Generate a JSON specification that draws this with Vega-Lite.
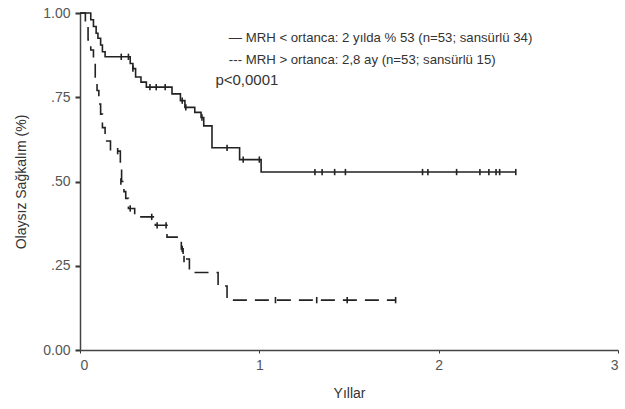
{
  "$schema": "https://vega.github.io/schema/vega-lite/v6.json",
  "autosize": "none",
  "width": 538,
  "height": 337,
  "padding": {"left": 80, "top": 13, "right": 7, "bottom": 59},
  "background": "white",
  "config": {
    "view": {"stroke": null},
    "font": "Liberation Sans",
    "axis": {"grid": false, "labelFont": "Liberation Sans", "titleFont": "Liberation Sans", "labelFontSize": 14, "titleFontSize": 14, "labelColor": "#555", "titleColor": "#333", "titleFontWeight": "normal", "domainColor": "#444", "domainWidth": 1.5, "tickColor": "#333"}
  },
  "datasets": {
    "curves": [
      {"g": "low", "t": 0, "s": 1.0},
      {"g": "low", "t": 0.06, "s": 0.98},
      {"g": "low", "t": 0.075, "s": 0.96},
      {"g": "low", "t": 0.09, "s": 0.94},
      {"g": "low", "t": 0.10, "s": 0.925},
      {"g": "low", "t": 0.115, "s": 0.905},
      {"g": "low", "t": 0.125, "s": 0.885},
      {"g": "low", "t": 0.14, "s": 0.87},
      {"g": "low", "t": 0.28, "s": 0.85},
      {"g": "low", "t": 0.295, "s": 0.835},
      {"g": "low", "t": 0.31, "s": 0.81},
      {"g": "low", "t": 0.34, "s": 0.795},
      {"g": "low", "t": 0.37, "s": 0.78},
      {"g": "low", "t": 0.513, "s": 0.76},
      {"g": "low", "t": 0.56, "s": 0.74},
      {"g": "low", "t": 0.585, "s": 0.72},
      {"g": "low", "t": 0.64, "s": 0.705},
      {"g": "low", "t": 0.675, "s": 0.69},
      {"g": "low", "t": 0.69, "s": 0.665},
      {"g": "low", "t": 0.736, "s": 0.60},
      {"g": "low", "t": 0.89, "s": 0.565},
      {"g": "low", "t": 1.01, "s": 0.528},
      {"g": "low", "t": 2.43, "s": 0.528},
      {"g": "high", "t": 0, "s": 1.0},
      {"g": "high", "t": 0.03, "s": 0.96},
      {"g": "high", "t": 0.045, "s": 0.92},
      {"g": "high", "t": 0.06, "s": 0.89},
      {"g": "high", "t": 0.075, "s": 0.85},
      {"g": "high", "t": 0.085, "s": 0.81},
      {"g": "high", "t": 0.095, "s": 0.77},
      {"g": "high", "t": 0.105, "s": 0.73},
      {"g": "high", "t": 0.115, "s": 0.70},
      {"g": "high", "t": 0.125, "s": 0.66},
      {"g": "high", "t": 0.14, "s": 0.62},
      {"g": "high", "t": 0.17, "s": 0.59},
      {"g": "high", "t": 0.225, "s": 0.55},
      {"g": "high", "t": 0.232, "s": 0.50},
      {"g": "high", "t": 0.245, "s": 0.47},
      {"g": "high", "t": 0.255, "s": 0.45},
      {"g": "high", "t": 0.27, "s": 0.42},
      {"g": "high", "t": 0.305, "s": 0.395},
      {"g": "high", "t": 0.42, "s": 0.37},
      {"g": "high", "t": 0.485, "s": 0.335},
      {"g": "high", "t": 0.565, "s": 0.30},
      {"g": "high", "t": 0.575, "s": 0.27},
      {"g": "high", "t": 0.61, "s": 0.23},
      {"g": "high", "t": 0.77, "s": 0.19},
      {"g": "high", "t": 0.82, "s": 0.148},
      {"g": "high", "t": 1.76, "s": 0.148}
    ],
    "censors": [
      {"g": "low", "t": 0.23, "s": 0.87},
      {"g": "low", "t": 0.27, "s": 0.87},
      {"g": "low", "t": 0.295, "s": 0.835},
      {"g": "low", "t": 0.39, "s": 0.78},
      {"g": "low", "t": 0.425, "s": 0.78},
      {"g": "low", "t": 0.475, "s": 0.78},
      {"g": "low", "t": 0.57, "s": 0.74},
      {"g": "low", "t": 0.59, "s": 0.72},
      {"g": "low", "t": 0.68, "s": 0.69},
      {"g": "low", "t": 0.82, "s": 0.60},
      {"g": "low", "t": 0.91, "s": 0.565},
      {"g": "low", "t": 1.0, "s": 0.565},
      {"g": "low", "t": 1.31, "s": 0.528},
      {"g": "low", "t": 1.35, "s": 0.528},
      {"g": "low", "t": 1.42, "s": 0.528},
      {"g": "low", "t": 1.48, "s": 0.528},
      {"g": "low", "t": 1.91, "s": 0.528},
      {"g": "low", "t": 1.94, "s": 0.528},
      {"g": "low", "t": 2.10, "s": 0.528},
      {"g": "low", "t": 2.23, "s": 0.528},
      {"g": "low", "t": 2.28, "s": 0.528},
      {"g": "low", "t": 2.32, "s": 0.528},
      {"g": "low", "t": 2.34, "s": 0.528},
      {"g": "low", "t": 2.43, "s": 0.528},
      {"g": "high", "t": 0.21, "s": 0.59},
      {"g": "high", "t": 0.228, "s": 0.50},
      {"g": "high", "t": 0.28, "s": 0.42},
      {"g": "high", "t": 0.40, "s": 0.395},
      {"g": "high", "t": 0.43, "s": 0.37},
      {"g": "high", "t": 0.48, "s": 0.37},
      {"g": "high", "t": 0.57, "s": 0.30},
      {"g": "high", "t": 0.58, "s": 0.27},
      {"g": "high", "t": 1.09, "s": 0.148},
      {"g": "high", "t": 1.32, "s": 0.148},
      {"g": "high", "t": 1.49, "s": 0.148},
      {"g": "high", "t": 1.76, "s": 0.148}
    ]
  },
  "layer": [
    {
      "mark": {"type": "rule", "color": "#888", "strokeWidth": 1.5},
      "encoding": {
        "y": {"datum": 1, "type": "quantitative"},
        "x": {"datum": 0, "type": "quantitative"},
        "x2": {"datum": 3}
      }
    },
    {
      "data": {"name": "curves"},
      "transform": [{"filter": "datum.g == 'low'"}],
      "mark": {"type": "line", "interpolate": "step-after", "color": "#222", "strokeWidth": 1.6},
      "encoding": {
        "x": {"field": "t", "type": "quantitative", "scale": {"domain": [0, 3], "nice": false, "zero": false},
          "axis": {"values": [0, 1, 2, 3], "format": "d", "title": "Yıllar", "tickSize": 3, "labelPadding": 5, "titlePadding": 14}},
        "y": {"field": "s", "type": "quantitative", "scale": {"domain": [0, 1], "nice": false},
          "axis": {"values": [0, 0.25, 0.5, 0.75, 1], "labelExpr": "datum.value == 0 ? '0.00' : datum.value == 1 ? '1.00' : '.' + format(datum.value * 100, 'd')", "title": "Olaysız Sağkalım (%)", "tickSize": 5, "tickWidth": 2, "labelPadding": 5, "titlePadding": 14}},
        "order": {"field": "t"}
      }
    },
    {
      "data": {"name": "curves"},
      "transform": [{"filter": "datum.g == 'high'"}],
      "mark": {"type": "line", "interpolate": "step-after", "color": "#222", "strokeWidth": 1.6, "strokeDash": [14, 8]},
      "encoding": {
        "x": {"field": "t", "type": "quantitative"},
        "y": {"field": "s", "type": "quantitative"},
        "order": {"field": "t"}
      }
    },
    {
      "data": {"name": "censors"},
      "mark": {"type": "point", "shape": "M0,-1L0,1", "filled": false, "color": "#222", "strokeWidth": 1.6, "size": 40, "opacity": 1},
      "encoding": {
        "x": {"field": "t", "type": "quantitative"},
        "y": {"field": "s", "type": "quantitative"}
      }
    },
    {
      "data": {"values": [{"label": "— MRH < ortanca: 2 yılda % 53 (n=53; sansürlü 34)"}]},
      "mark": {"type": "text", "align": "left", "baseline": "middle", "fontSize": 13.2, "color": "#333", "font": "Liberation Sans"},
      "encoding": {
        "x": {"datum": 0.83, "type": "quantitative"},
        "y": {"datum": 0.926, "type": "quantitative"},
        "text": {"field": "label"}
      }
    },
    {
      "data": {"values": [{"label": "--- MRH > ortanca: 2,8 ay (n=53; sansürlü 15)"}]},
      "mark": {"type": "text", "align": "left", "baseline": "middle", "fontSize": 13.2, "color": "#333", "font": "Liberation Sans"},
      "encoding": {
        "x": {"datum": 0.83, "type": "quantitative"},
        "y": {"datum": 0.861, "type": "quantitative"},
        "text": {"field": "label"}
      }
    },
    {
      "data": {"values": [{"label": "p<0,0001"}]},
      "mark": {"type": "text", "align": "left", "baseline": "middle", "fontSize": 15, "color": "#333", "font": "Liberation Sans"},
      "encoding": {
        "x": {"datum": 0.755, "type": "quantitative"},
        "y": {"datum": 0.80, "type": "quantitative"},
        "text": {"field": "label"}
      }
    }
  ]
}
